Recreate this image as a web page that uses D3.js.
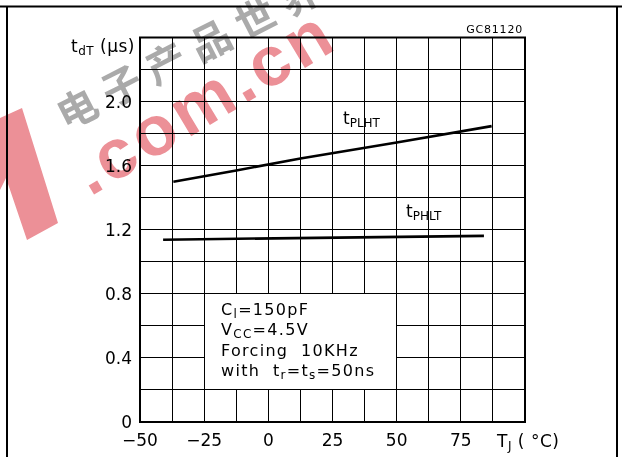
<html>
<head>
<script src="https://d3js.org/d3.v7.min.js"></script>
<style>
  body { margin: 0; background: #fff; }
  text { font-family: "DejaVu Sans", sans-serif; fill: #000; white-space: pre; }
</style>
</head>
<body>
<svg id="chart" width="622" height="457"></svg>
<script>
// ---- data ----
const xTicks = [-50, -25, 0, 25, 50, 75];
const yTicks = [0, 0.4, 0.8, 1.2, 1.6, 2.0];
const xGridStep = 12.5;
const yGridStep = 0.2;

// t_PLHT curve (TJ in degC, delay in us)
const plhtTemp = [-37, -12.5, 12.5, 50, 87];
const plhtVal = [1.50, 1.57, 1.645, 1.745, 1.847];
// t_PHLT curve
const phltTemp = [-41, 84];
const phltVal = [1.138, 1.162];

// note box text: [main, subscript] pieces
const noteLines = [
  [["C", "l"], ["=150pF", ""]],
  [["V", "CC"], ["=4.5V", ""]],
  [["Forcing  10KHz", ""]],
  [["with  t", "r"], ["=t", "s"], ["=50ns", ""]]
];

let svg = d3.select("svg#chart");

let x = d3.scaleLinear().domain([-50, 100]).range([140, 525]);
let y = d3.scaleLinear().domain([0, 2.4]).range([422, 37.5]);

// watermark (drawn first, faint)
let wm = svg.append("g").attr("opacity", 0.5);
wm.append("text")
  .attr("transform", "translate(90,197) rotate(-31)")
  .style("font-family", "'Liberation Sans', sans-serif")
  .style("font-weight", "bold").style("font-size", "70px")
  .style("letter-spacing", "4px").style("fill", "#d8202e")
  .text(".com.cn");
wm.append("text")
  .attr("transform", "translate(66,131) rotate(-27)")
  .style("font-family", "'Noto Sans CJK SC', sans-serif")
  .style("font-weight", "bold")
  .style("font-size", "40px").style("letter-spacing", "10px").style("fill", "#555")
  .text("电子产品世界");
wm.append("path")
  .attr("d", "M0,118 L22,108 L58,223 L27,240 L6,178 L0,190 Z")
  .attr("fill", "#d8202e");

// outer frame of the page
svg.append("line").attr("x1", 0).attr("x2", 622).attr("y1", 6.5).attr("y2", 6.5)
   .attr("stroke", "#000").attr("stroke-width", 2);
svg.append("line").attr("x1", 7).attr("x2", 7).attr("y1", 6).attr("y2", 457)
   .attr("stroke", "#000").attr("stroke-width", 2);
svg.append("line").attr("x1", 617).attr("x2", 617).attr("y1", 6).attr("y2", 457)
   .attr("stroke", "#000").attr("stroke-width", 2);

// grid
let xGrid = d3.range(-50, 100.01, xGridStep);
let yGrid = d3.range(0, 2.401, yGridStep);
let grid = svg.append("g").attr("shape-rendering", "crispEdges");
grid.selectAll("line.v").data(xGrid).join("line")
    .attr("x1", d => x(d)).attr("x2", d => x(d))
    .attr("y1", y(0)).attr("y2", y(2.4))
    .attr("stroke", "#000").attr("stroke-width", 1);
grid.selectAll("line.h").data(yGrid).join("line")
    .attr("y1", d => y(d)).attr("y2", d => y(d))
    .attr("x1", x(-50)).attr("x2", x(100))
    .attr("stroke", "#000").attr("stroke-width", 1);

// note box (covers the grid)
svg.append("rect")
   .attr("x", x(-25)).attr("y", y(0.8))
   .attr("width", x(50) - x(-25)).attr("height", y(0.2) - y(0.8))
   .attr("fill", "#fff").attr("stroke", "#000").attr("stroke-width", 1)
   .attr("shape-rendering", "crispEdges");

// plot border
svg.append("rect")
   .attr("x", x(-50)).attr("y", y(2.4))
   .attr("width", x(100) - x(-50)).attr("height", y(0) - y(2.4))
   .attr("fill", "none").attr("stroke", "#000").attr("stroke-width", 2);

// curves
let line = d3.line().x(d => x(d[0])).y(d => y(d[1]));
svg.append("path").datum(d3.zip(plhtTemp, plhtVal)).attr("d", line)
   .attr("fill", "none").attr("stroke", "#000").attr("stroke-width", 2.6);
svg.append("path").datum(d3.zip(phltTemp, phltVal)).attr("d", line)
   .attr("fill", "none").attr("stroke", "#000").attr("stroke-width", 2.6);

// tick labels
svg.selectAll("text.yt").data(yTicks).join("text")
   .attr("class", "yt")
   .attr("x", 132).attr("y", d => y(d) + 6)
   .attr("text-anchor", "end").style("font-size", "17px")
   .text(d => d === 0 ? "0" : d.toFixed(1));
svg.selectAll("text.xt").data(xTicks).join("text")
   .attr("class", "xt")
   .attr("x", d => x(d)).attr("y", 446)
   .attr("text-anchor", "middle").style("font-size", "17px")
   .text(d => d < 0 ? "\u2212" + Math.abs(d) : d);

// helper for text with subscripts: each part is [main, sub]
function subText(sel, parts, mainSize, subSize, shift) {
  let pending = 0;
  parts.forEach(p => {
    if (p[0]) {
      sel.append("tspan").style("font-size", mainSize + "px")
         .attr("dy", pending).text(p[0]);
      pending = 0;
    }
    if (p[1]) {
      sel.append("tspan").style("font-size", subSize + "px")
         .attr("dy", pending + shift).text(p[1]);
      pending = -shift;
    }
  });
}

// axis titles
let yTitle = svg.append("text").attr("x", 71).attr("y", 52).style("letter-spacing", "0.5px");
subText(yTitle, [["t", "dT"], [" (\u03bcs)", ""]], 17, 12, 3);
let xTitle = svg.append("text").attr("x", 497).attr("y", 447).style("letter-spacing", "0.5px");
subText(xTitle, [["T", "J"], [" ( \u00b0C)", ""]], 17, 12, 3);

svg.append("text").attr("x", 523).attr("y", 33).attr("text-anchor", "end")
   .style("font-size", "11px").style("letter-spacing", "0.8px").text("GC81120");

// curve labels
let l1 = svg.append("text").attr("x", 343).attr("y", 124);
subText(l1, [["t", "PLHT"]], 17, 12, 3);
let l2 = svg.append("text").attr("x", 406).attr("y", 217);
subText(l2, [["t", "PHLT"]], 17, 12, 3);

// note text
noteLines.forEach((ln, i) => {
  let t = svg.append("text").attr("x", 221).attr("y", 315 + i * 20.4)
             .style("letter-spacing", "1.3px");
  subText(t, ln, 16, 12, 3);
});
</script>
</body>
</html>
